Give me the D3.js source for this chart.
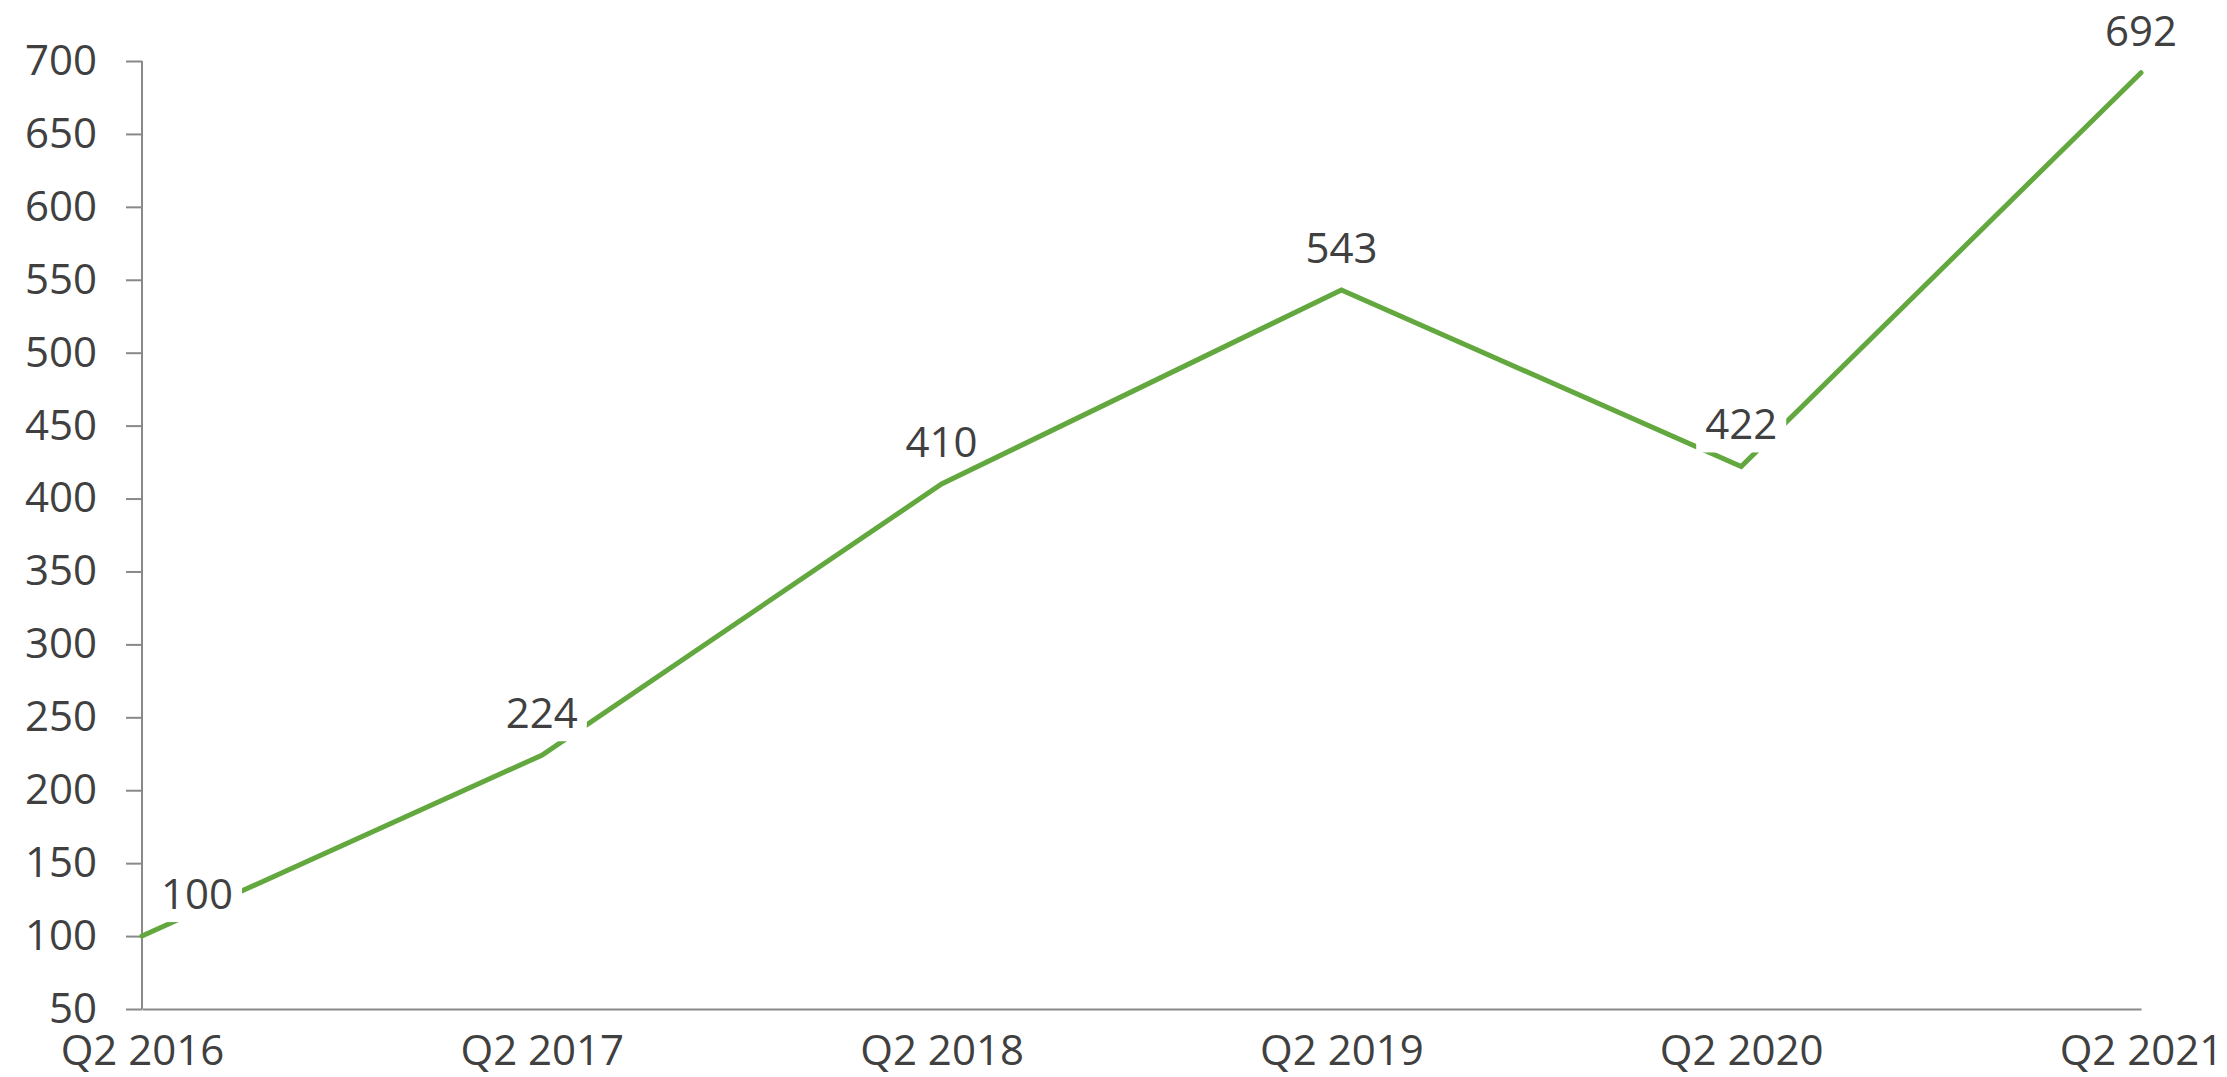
<!DOCTYPE html>
<html lang="en">
<head>
  <meta charset="UTF-8">
  <title>Line chart</title>
  <style>
    html, body { margin: 0; padding: 0; background: #fff; }
    text { font-family: "Open Sans", sans-serif; fill: #404040; }
  </style>
</head>
<body>
  <script src="https://cdn.jsdelivr.net/npm/d3@7/dist/d3.min.js"></script>
  <script>
    // 数据
    const quarters = ['Q2 2016', 'Q2 2017', 'Q2 2018', 'Q2 2019', 'Q2 2020', 'Q2 2021'];
    const values = [100, 224, 410, 543, 422, 692];
    const yTicks = [50, 100, 150, 200, 250, 300, 350, 400, 450, 500, 550, 600, 650, 700];
    const boxedLabels = [true, true, false, false, true, false]; // 哪些标签有白底

    const width = 2227, height = 1077;
    const margin = { top: 61, left: 142, right: 86, bottom: 68 };
    const green = '#62a83f', axisColor = '#898989';

    const svg = d3.select('body').append('svg')
      .attr('width', width).attr('height', height);

    const x = d3.scalePoint().domain(quarters)
      .range([margin.left, width - margin.right]);
    const y = d3.scaleLinear().domain([50, 700])
      .range([height - margin.bottom, margin.top]);

    // y 轴
    const yAxis = svg.append('g')
      .attr('transform', `translate(${margin.left},0)`)
      .call(d3.axisLeft(y).tickValues(yTicks).tickSize(16).tickPadding(29));
    yAxis.select('.domain').attr('stroke', axisColor).attr('stroke-width', 2)
      .attr('d', `M0,${y(700)}V${y(50)}`);
    yAxis.selectAll('.tick line').attr('stroke', axisColor).attr('stroke-width', 2);
    yAxis.selectAll('.tick text')
      .attr('font-size', 42).attr('fill', '#404040').attr('font-family', '"Open Sans", sans-serif');

    // x 轴
    const xAxis = svg.append('g')
      .attr('transform', `translate(0,${y(50)})`)
      .call(d3.axisBottom(x).tickSize(0).tickPadding(0));
    xAxis.select('.domain').attr('stroke', axisColor).attr('stroke-width', 2);
    xAxis.selectAll('.tick text')
      .attr('dy', null).attr('y', 56)
      .attr('font-size', 42).attr('fill', '#404040').attr('font-family', '"Open Sans", sans-serif');

    // 折线
    const line = d3.line().x((d, i) => x(quarters[i])).y(d => y(d));
    svg.append('path')
      .datum(values)
      .attr('d', line)
      .attr('fill', 'none')
      .attr('stroke', green)
      .attr('stroke-width', 5)
      .attr('stroke-linejoin', 'miter')
      .attr('stroke-linecap', 'round');

    // 数据标签 (部分白底遮住折线)
    const labels = svg.append('g').selectAll('g.label')
      .data(values).enter().append('g')
      .attr('class', 'label')
      .attr('transform', (d, i) => `translate(${x(quarters[i]) + (i === 0 ? 55 : 0)},${y(d) - 27})`);
    labels.append('text')
      .attr('text-anchor', 'middle')
      .attr('font-size', 42)
      .text(d => d);
    labels.each(function(d, i){
      if(!boxedLabels[i]) return;
      const g = d3.select(this);
      const bb = g.select('text').node().getBBox();
      g.insert('rect', 'text')
        .attr('x', bb.x - 9).attr('y', -42)
        .attr('width', bb.width + 18).attr('height', 55)
        .attr('fill', '#fff');
    });
  </script>
</body>
</html>
